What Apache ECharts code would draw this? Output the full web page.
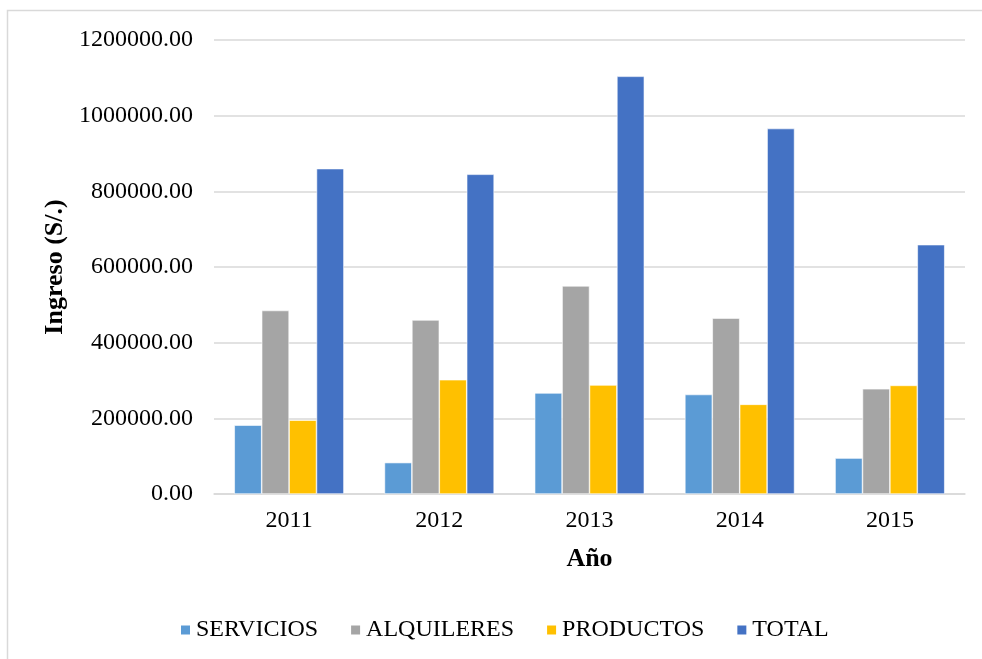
<!DOCTYPE html>
<html>
<head>
<meta charset="utf-8">
<title>Ingreso por año</title>
<script src="https://cdn.jsdelivr.net/npm/echarts@6/dist/echarts.min.js"></script>
<style>
  html, body { margin: 0; padding: 0; background: #fff; }
  #chart { width: 982px; height: 659px; }
</style>
</head>
<body>
<div id="chart"></div>
<script>
// datos
var years = ['2011', '2012', '2013', '2014', '2015'];
var servicios = [182000, 83000, 267000, 263000, 95000];
var alquileres = [485000, 460000, 550000, 465000, 278000];
var productos = [195000, 302000, 288000, 237000, 287000];
var total = [860000, 845000, 1104000, 966000, 659000];

var font = 'Liberation Serif';
var myChart = echarts.init(document.getElementById('chart'));

function barSerie(name, data, color) {
  return {
    name: name,
    type: 'bar',
    data: data,
    barGap: '0%',
    barCategoryGap: '27%',
    itemStyle: { color: color, borderColor: '#ffffff', borderWidth: 0.6 }
  };
}

var option = {
  backgroundColor: '#ffffff',
  animation: false,
  textStyle: { fontFamily: font },
  // marco gris del grafico
  graphic: [{
    type: 'rect',
    shape: { x: 7.5, y: 10.5, width: 1000, height: 700 },
    style: { fill: 'none', stroke: '#d9d9d9', lineWidth: 1.5 },
    silent: true
  }],
  grid: { left: 214, right: 17, top: 40, bottom: 165 },
  legend: {
    left: 174,
    top: 613,
    itemWidth: 11,
    itemHeight: 11,
    itemGap: 31,
    icon: 'rect',
    textStyle: { fontFamily: font, fontSize: 24, color: '#000', lineHeight: 24 },
    data: ['SERVICIOS', 'ALQUILERES', 'PRODUCTOS', 'TOTAL']
  },
  xAxis: {
    type: 'category',
    data: years,
    name: 'Año',
    nameLocation: 'middle',
    nameGap: 52,
    nameTextStyle: { fontFamily: font, fontSize: 26, fontWeight: 'bold', color: '#000' },
    axisLine: { lineStyle: { color: '#d9d9d9', width: 1.5 } },
    axisTick: { show: false },
    axisLabel: { fontFamily: font, fontSize: 24, color: '#000', margin: 15 }
  },
  yAxis: {
    type: 'value',
    min: 0,
    max: 1200000,
    interval: 200000,
    name: 'Ingreso (S/.)',
    nameLocation: 'middle',
    nameGap: 137,
    nameTextStyle: { fontFamily: font, fontSize: 26, fontWeight: 'bold', color: '#000' },
    axisLine: { show: false },
    axisTick: { show: false },
    splitLine: { lineStyle: { color: '#d9d9d9', width: 1.5 } },
    axisLabel: {
      fontFamily: font, fontSize: 24, color: '#000', margin: 21,
      formatter: function (v) { return v.toFixed(2); }
    }
  },
  series: [
    barSerie('SERVICIOS', servicios, '#5b9bd5'),
    barSerie('ALQUILERES', alquileres, '#a5a5a5'),
    barSerie('PRODUCTOS', productos, '#ffc000'),
    barSerie('TOTAL', total, '#4472c4')
  ]
};

myChart.setOption(option);
</script>
</body>
</html>
